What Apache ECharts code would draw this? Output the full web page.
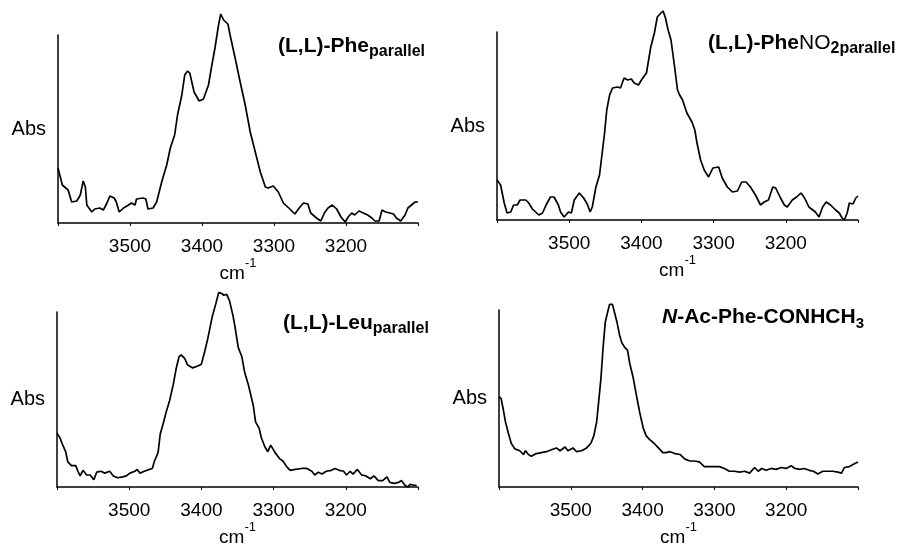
<!DOCTYPE html>
<html><head><meta charset="utf-8">
<script src="https://cdn.jsdelivr.net/npm/echarts@6/dist/echarts.min.js"></script>
<style>html,body{margin:0;padding:0;background:#fff}#c{width:897px;height:548px}</style>
</head><body><div id="c"></div>
<script>
// ---- data ----
const xTickLabels = [3500, 3400, 3300, 3200];
const xMin = 3100, xMax = 3600;
const panelTitles = [
  '{b|(L,L)-Phe}{s|parallel}',
  '{b|(L,L)-Phe}{r|NO}{s|2parallel}',
  '{b|(L,L)-Leu}{s|parallel}',
  '{i|N}{b|-Ac-Phe-CONHCH}{s3|3}'
];
const yLabel = 'Abs';
const xLabel = '{a|cm}{p|-1}';

// [wavenumber cm-1, absorbance (arb. units)]
const pheParallel = [[3600,55],[3594,38],[3586,33],[3581,21],[3574,22],[3569,28],[3565,42],[3562,36],[3560,18],[3553,11],[3549,14],[3542,15],[3537,13],[3532,20],[3528,27],[3522,25],[3519,21],[3515,11],[3509,15],[3502,18],[3498,20],[3493,18],[3491,24],[3482,25],[3478,24],[3475,14],[3468,15],[3463,21],[3456,41],[3449,58],[3444,75],[3438,88],[3434,108],[3428,128],[3424,148],[3420,152],[3417,150],[3411,131],[3404,122],[3398,124],[3391,138],[3387,155],[3382,175],[3377,198],[3374,209],[3370,203],[3364,199],[3361,188],[3354,165],[3347,141],[3340,118],[3333,91],[3326,71],[3319,51],[3312,36],[3308,35],[3301,37],[3294,31],[3287,20],[3278,14],[3271,9],[3265,15],[3259,20],[3253,19],[3249,10],[3241,5],[3235,2],[3230,10],[3225,15],[3219,18],[3213,14],[3207,6],[3201,1],[3197,6],[3192,10],[3188,8],[3182,12],[3176,10],[3170,8],[3164,5],[3160,2],[3154,2],[3150,13],[3145,11],[3139,10],[3134,9],[3130,5],[3124,2],[3118,8],[3114,15],[3109,18],[3104,21],[3100,21]];

const pheNO2Parallel = [[3600,40],[3595,35],[3590,17],[3586,7],[3581,8],[3577,15],[3572,15],[3568,20],[3560,20],[3556,17],[3551,11],[3542,5],[3537,7],[3532,15],[3526,23],[3521,23],[3515,15],[3512,8],[3507,3],[3501,8],[3497,7],[3493,20],[3486,27],[3480,22],[3475,16],[3471,8],[3468,13],[3463,33],[3458,45],[3455,63],[3451,87],[3448,110],[3444,125],[3440,132],[3433,133],[3429,132],[3424,142],[3419,140],[3414,141],[3410,137],[3404,135],[3400,140],[3393,147],[3390,160],[3387,173],[3382,187],[3378,203],[3373,207],[3370,209],[3367,203],[3363,190],[3359,180],[3354,153],[3350,130],[3347,125],[3343,120],[3337,107],[3330,98],[3326,90],[3323,77],[3318,60],[3313,50],[3307,43],[3301,52],[3293,53],[3288,42],[3281,33],[3274,28],[3267,29],[3261,38],[3255,38],[3249,33],[3242,25],[3235,15],[3230,18],[3224,20],[3218,33],[3214,32],[3208,23],[3202,15],[3198,13],[3191,20],[3185,23],[3179,27],[3174,22],[3168,13],[3159,8],[3154,3],[3149,13],[3144,18],[3138,15],[3131,10],[3126,7],[3122,2],[3119,0],[3115,7],[3112,17],[3107,16],[3103,22],[3100,24]];

const leuParallel = [[3600,58],[3596,53],[3592,45],[3588,38],[3585,27],[3580,23],[3574,23],[3571,17],[3568,12],[3564,18],[3559,13],[3554,13],[3549,8],[3545,16],[3539,17],[3534,15],[3527,17],[3522,12],[3516,10],[3509,11],[3504,12],[3499,15],[3492,17],[3489,19],[3485,15],[3479,17],[3472,19],[3468,20],[3465,28],[3460,37],[3457,57],[3453,68],[3449,80],[3444,93],[3439,110],[3435,127],[3431,140],[3428,142],[3423,138],[3419,131],[3412,128],[3405,130],[3400,132],[3395,147],[3391,160],[3385,183],[3380,197],[3376,209],[3372,208],[3369,206],[3365,207],[3361,200],[3356,183],[3353,170],[3349,150],[3344,140],[3340,123],[3335,110],[3331,97],[3328,87],[3325,70],[3320,63],[3317,53],[3312,43],[3308,38],[3304,45],[3298,37],[3291,30],[3287,28],[3282,22],[3277,18],[3270,19],[3261,20],[3254,20],[3247,17],[3243,13],[3238,16],[3233,14],[3227,17],[3220,18],[3215,20],[3209,18],[3203,17],[3199,13],[3194,17],[3190,14],[3184,19],[3178,13],[3172,12],[3166,9],[3161,12],[3155,7],[3149,7],[3143,11],[3139,5],[3133,4],[3127,5],[3123,7],[3118,2],[3114,0],[3111,3],[3106,2],[3102,2]];

const nAcPheConhch3 = [[3600,97],[3597,95],[3594,83],[3591,70],[3587,58],[3583,47],[3578,41],[3571,39],[3566,35],[3563,39],[3559,35],[3555,33],[3548,36],[3541,37],[3534,38],[3527,40],[3520,42],[3515,39],[3508,43],[3504,39],[3497,42],[3492,38],[3485,39],[3478,42],[3472,47],[3468,55],[3464,70],[3461,93],[3458,117],[3455,150],[3452,177],[3448,190],[3446,196],[3442,196],[3440,190],[3436,178],[3432,163],[3429,155],[3425,150],[3421,147],[3418,133],[3413,117],[3409,100],[3404,80],[3399,63],[3395,55],[3390,51],[3384,47],[3378,42],[3372,37],[3367,37],[3362,38],[3355,36],[3348,35],[3341,30],[3334,28],[3328,28],[3321,27],[3314,22],[3307,22],[3300,22],[3293,22],[3286,20],[3279,17],[3272,17],[3265,16],[3258,17],[3251,15],[3244,21],[3239,17],[3234,20],[3228,18],[3221,20],[3214,19],[3207,21],[3200,20],[3193,23],[3188,20],[3181,19],[3175,20],[3168,18],[3162,17],[3156,14],[3149,17],[3142,17],[3135,17],[3128,16],[3123,15],[3119,21],[3112,22],[3105,25],[3100,27]];

const yAxisMax = [188, 188, 188, 190];

// ---- layout ----
const FONT = "'Liberation Sans', Arial, Helvetica, sans-serif";
const seriesData = [pheParallel, pheNO2Parallel, leuParallel, nAcPheConhch3];
const grids = [
  {left: 58, top: 35, width: 360, height: 188},
  {left: 497, top: 32, width: 361, height: 188},
  {left: 57, top: 312, width: 361, height: 188},
  {left: 499, top: 310, width: 359, height: 190}
];
const titlePos = [[278, 32], [708, 29], [283, 309], [662, 304]];

const richTitle = {
  b: {fontFamily: FONT, fontSize: 21, fontWeight: 'bold', color: '#000'},
  i: {fontFamily: FONT, fontSize: 21, fontWeight: 'bold', fontStyle: 'italic', color: '#000'},
  r: {fontFamily: FONT, fontSize: 21, fontWeight: 'normal', color: '#000'},
  s: {fontFamily: FONT, fontSize: 16, fontWeight: 'bold', color: '#000', padding: [12, 0, 0, 0]},
  s3: {fontFamily: FONT, fontSize: 15, fontWeight: 'bold', color: '#000', padding: [12, 0, 0, 0]}
};

const chart = echarts.init(document.getElementById('c'), null, {renderer: 'canvas'});
const option = {
  animation: false,
  backgroundColor: '#fff',
  grid: grids,
  title: panelTitles.map((t, i) => ({
    text: t, left: titlePos[i][0], top: titlePos[i][1], padding: 0,
    textStyle: {rich: richTitle}
  })),
  xAxis: grids.map((g, i) => ({
    gridIndex: i, type: 'value', inverse: true, min: xMin, max: xMax, interval: 100,
    axisLine: {show: true, onZero: false, lineStyle: {color: '#000', width: 1.5}},
    axisTick: {show: true, length: 3, lineStyle: {color: '#000', width: 1}},
    splitLine: {show: false},
    axisLabel: {
      color: '#000', fontFamily: FONT, fontSize: 19, margin: 14,
      formatter: v => (xTickLabels.indexOf(v) >= 0 ? String(v) : '')
    },
    name: xLabel, nameLocation: 'middle', nameGap: 32,
    nameTextStyle: {
      rich: {
        a: {fontFamily: FONT, fontSize: 19, color: '#000'},
        p: {fontFamily: FONT, fontSize: 13, color: '#000', padding: [0, 0, 20, 0]}
      }
    }
  })),
  yAxis: grids.map((g, i) => ({
    gridIndex: i, type: 'value', min: 0, max: yAxisMax[i],
    axisLine: {show: true, onZero: false, lineStyle: {color: '#000', width: 1.5}},
    axisTick: {show: false}, axisLabel: {show: false}, splitLine: {show: false},
    name: yLabel, nameLocation: 'middle', nameRotate: 0, nameGap: 12,
    nameTextStyle: {color: '#000', fontFamily: FONT, fontSize: 20}
  })),
  series: seriesData.map((d, i) => ({
    type: 'line', xAxisIndex: i, yAxisIndex: i, data: d,
    symbol: 'none', showSymbol: false, clip: false, silent: true,
    lineStyle: {color: '#000', width: 1.7}
  }))
};
chart.setOption(option);
</script>
</body></html>
